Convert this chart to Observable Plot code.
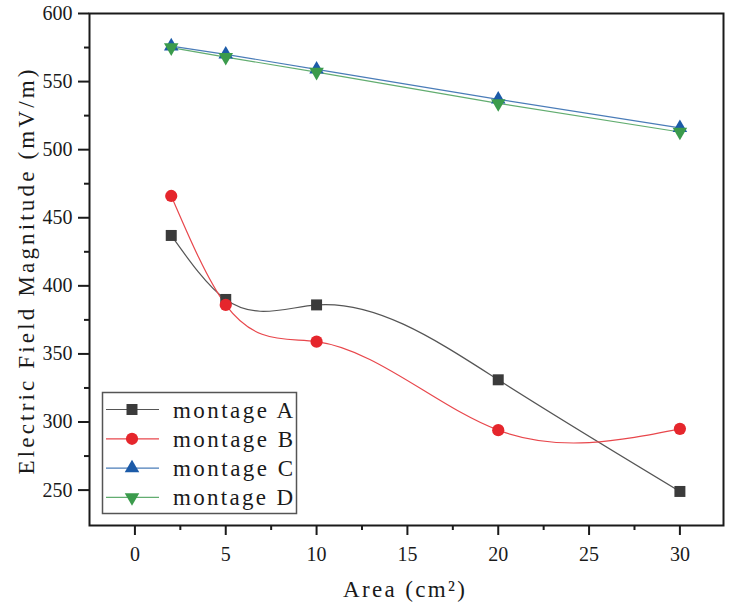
<!DOCTYPE html>
<html>
<head>
<meta charset="utf-8">
<script src="https://cdn.jsdelivr.net/npm/d3@7"></script>
<script src="https://cdn.jsdelivr.net/npm/@observablehq/plot@0.6"></script>
<style>
  html, body { margin: 0; padding: 0; background: #ffffff; }
  #chart svg { display: block; }
  #chart svg text { font-family: "Liberation Serif", "DejaVu Serif", serif; }
</style>
</head>
<body>
<div id="chart"></div>
<script>
// ---- data ----
const areas = [2, 5, 10, 20, 30];
const montageA = [437, 390, 386, 331, 249];
const montageB = [466, 386, 359, 294, 295];
const montageC = [576, 570, 559, 537, 516];
const montageD = [575, 568, 557, 534, 513];
const seriesNames = ["montage A", "montage B", "montage C", "montage D"];
const xTicks = [0, 5, 10, 15, 20, 25, 30];
const xMinorTicks = [2.5, 7.5, 12.5, 17.5, 22.5, 27.5];
const yTicks = [250, 300, 350, 400, 450, 500, 550, 600];
const yMinorTicks = [275, 325, 375, 425, 475, 525, 575];
const xTitle = "Area (cm²)";
const yTitle = "Electric Field Magnitude (mV/m)";

// ---- a d3-style curve factory: natural cubic spline y(x) (as drawn by Origin) ----
function curveSplineX(context) {
  let px, py;
  return {
    areaStart() {}, areaEnd() {},
    lineStart() { px = []; py = []; },
    point(x, y) { px.push(+x); py.push(+y); },
    lineEnd() {
      const n = px.length;
      if (n === 0) return;
      context.moveTo(px[0], py[0]);
      if (n === 1) return;
      if (n === 2) { context.lineTo(px[1], py[1]); return; }
      const h = [], s = [];
      for (let i = 0; i < n - 1; i++) { h.push(px[i + 1] - px[i]); s.push((py[i + 1] - py[i]) / h[i]); }
      const m = n - 2;
      const a = [], b = [], c = [], d = [];
      for (let k = 0; k < m; k++) {
        const i = k + 1;
        a.push(h[i - 1]); b.push(2 * (h[i - 1] + h[i])); c.push(h[i]);
        d.push(6 * (s[i] - s[i - 1]));
      }
      for (let k = 1; k < m; k++) {
        const w = a[k] / b[k - 1];
        b[k] -= w * c[k - 1];
        d[k] -= w * d[k - 1];
      }
      const M = new Array(n).fill(0);
      for (let k = m - 1; k >= 0; k--) {
        M[k + 1] = (d[k] - (k < m - 1 ? c[k] * M[k + 2] : 0)) / b[k];
      }
      const slope = new Array(n);
      for (let i = 0; i < n - 1; i++) slope[i] = s[i] - h[i] * (2 * M[i] + M[i + 1]) / 6;
      slope[n - 1] = s[n - 2] + h[n - 2] * (M[n - 2] + 2 * M[n - 1]) / 6;
      for (let i = 0; i < n - 1; i++) {
        const t = h[i] / 3;
        context.bezierCurveTo(px[i] + t, py[i] + slope[i] * t, px[i + 1] - t, py[i + 1] - slope[i + 1] * t, px[i + 1], py[i + 1]);
      }
    }
  };
}

// ---- styles ----
const styles = [
  {line: "#555555", fill: "#3b3b3b", symbol: "square", r: 6.2, rotate: 0, curve: curveSplineX},
  {line: "#e8474c", fill: "#e5262c", symbol: "circle", r: 6.1, rotate: 0, curve: curveSplineX},
  {line: "#4a7cb8", fill: "#1c5ba8", symbol: "triangle", r: 5.4, rotate: 0, curve: "linear"},
  {line: "#62ad70", fill: "#3b9b4c", symbol: "triangle", r: 5.4, rotate: 180, curve: "linear"}
];
const allValues = [montageA, montageB, montageC, montageD];
const rows = allValues.map((vals, i) => areas.map((a, j) => ({area: a, value: vals[j], series: seriesNames[i]})));

const seriesMarks = [];
rows.forEach((data, i) => {
  const s = styles[i];
  seriesMarks.push(Plot.line(data, {x: "area", y: "value", stroke: s.line, strokeWidth: 1.2, curve: s.curve}));
});
rows.forEach((data, i) => {
  const s = styles[i];
  seriesMarks.push(Plot.dot(data, {x: "area", y: "value", symbol: s.symbol, r: s.r, fill: s.fill, stroke: "none", rotate: s.rotate}));
});

const chart = Plot.plot({
  width: 733,
  height: 607,
  marginLeft: 89,
  marginRight: 10,
  marginTop: 13,
  marginBottom: 82,
  style: {fontSize: "20px", color: "#1a1a1a", background: "#ffffff"},
  x: {domain: [-2.5, 32.4]},
  y: {domain: [224, 600]},
  marks: [
    Plot.axisX({ticks: xTicks, tickSize: 10, tickPadding: 11, strokeWidth: 2, label: null, fontSize: 20}),
    Plot.axisX({ticks: xMinorTicks, tickSize: 5, strokeWidth: 2, fill: "none", label: null}),
    Plot.axisY({ticks: yTicks, tickSize: 11, tickPadding: 6, strokeWidth: 2, label: null, fontSize: 20}),
    Plot.axisY({ticks: yMinorTicks, tickSize: 5, strokeWidth: 2, fill: "none", label: null}),
    ...seriesMarks,
    Plot.frame({stroke: "#1a1a1a", strokeWidth: 2})
  ]
});
document.getElementById("chart").appendChild(chart);

// ---- axis titles & legend (layout added onto the SVG) ----
const svg = d3.select(chart);
svg.append("text")
  .attr("x", 404).attr("y", 597)
  .attr("text-anchor", "middle")
  .attr("textLength", 122).attr("lengthAdjust", "spacing")
  .style("font-size", "23px").attr("fill", "#1a1a1a")
  .text(xTitle);
svg.append("text")
  .attr("transform", "translate(26,272) rotate(-90)")
  .attr("text-anchor", "middle").attr("dy", "0.35em")
  .attr("textLength", 405).attr("lengthAdjust", "spacing")
  .style("font-size", "23px").attr("fill", "#1a1a1a")
  .text(yTitle);

const leg = svg.append("g");
leg.append("rect")
  .attr("x", 102.5).attr("y", 392.5).attr("width", 194).attr("height", 121)
  .attr("fill", "#ffffff").attr("stroke", "#555555").attr("stroke-width", 1.5);
const symbolTypes = {square: d3.symbolSquare, circle: d3.symbolCircle, triangle: d3.symbolTriangle};
seriesNames.forEach((name, i) => {
  const s = styles[i];
  const cy = 409.5 + i * 29.3;
  leg.append("line").attr("x1", 106).attr("x2", 159).attr("y1", cy).attr("y2", cy)
    .attr("stroke", s.line).attr("stroke-width", 1.2);
  leg.append("path")
    .attr("d", d3.symbol(symbolTypes[s.symbol], Math.PI * s.r * s.r)())
    .attr("transform", `translate(132,${cy}) rotate(${s.rotate})`)
    .attr("fill", s.fill);
  leg.append("text").attr("x", 173).attr("y", cy).attr("dy", "0.35em")
    .attr("text-anchor", "start")
    .attr("textLength", 120).attr("lengthAdjust", "spacing")
    .style("font-size", "23px").attr("fill", "#1a1a1a")
    .text(name);
});
</script>
</body>
</html>
